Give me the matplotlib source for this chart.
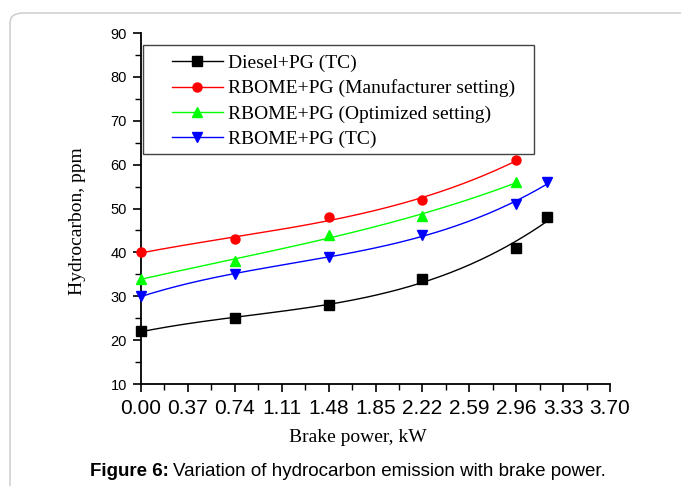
"""
Hydrocarbon emission vs brake power (Figure 6 recreation)
"""
import numpy as np
import matplotlib
matplotlib.use('Agg')
import matplotlib.pyplot as plt
from matplotlib.patches import FancyBboxPatch, Rectangle

# data
x_long = [0.00, 0.74, 1.48, 2.22, 2.96, 3.20]
x_short = [0.00, 0.74, 1.48, 2.22, 2.96]

diesel_tc = [22, 25, 28, 34, 41, 48]
rbome_manuf = [40, 43, 48, 52, 61]
rbome_opt = [34, 38, 44, 48.3, 56]
rbome_tc = [30, 35, 39, 44, 51, 56]

labels = ['Diesel+PG (TC)',
          'RBOME+PG (Manufacturer setting)',
          'RBOME+PG (Optimized setting)',
          'RBOME+PG (TC)']
x_ticks = [0.00, 0.37, 0.74, 1.11, 1.48, 1.85, 2.22, 2.59, 2.96, 3.33, 3.70]
y_ticks = [10, 20, 30, 40, 50, 60, 70, 80, 90]

W, H = 681, 486
fig = plt.figure(figsize=(W / 100, H / 100), dpi=100)

# page frame with rounded corner
frame = FancyBboxPatch((10 / W, -0.2), 1.2, 1 - 13 / H + 0.2,
                       boxstyle='round,pad=0,rounding_size=0.02',
                       transform=fig.transFigure, facecolor='none',
                       edgecolor='#c8c8c8', linewidth=1.0)
fig.patches.append(frame)

ax = fig.add_axes([141 / W, 1 - 384 / H, (610 - 141) / W, (384 - 33) / H])

serif = ['Liberation Serif', 'DejaVu Serif']
narrow = ['Liberation Sans Narrow', 'Liberation Sans', 'DejaVu Sans']

series = [
    (x_long, diesel_tc, 'black', 's', 6.5),
    (x_short, rbome_manuf, 'red', 'o', 6.5),
    (x_short, rbome_opt, '#00ff00', '^', 7),
    (x_long, rbome_tc, 'blue', 'v', 7),
]

handles = []
for (xs, ys, col, mk, ms), lab in zip(series, labels):
    # smooth fitted curve like the original plot
    coef = np.polyfit(xs, ys, 3)
    xx = np.linspace(xs[0], xs[-1], 200)
    ax.plot(xx, np.polyval(coef, xx), color=col, linewidth=1.0, clip_on=False)
    ax.plot(xs, ys, linestyle='none', marker=mk, markersize=ms, color=col,
            clip_on=False, zorder=3)
    h, = ax.plot([], [], color=col, linewidth=1.0, marker=mk, markersize=ms,
                 label=lab)
    handles.append(h)

ax.set_xlim(0, 3.70)
ax.set_ylim(10, 90)
ax.set_xticks(x_ticks)
ax.set_xticklabels([f'{v:.2f}' for v in x_ticks], family=narrow, fontsize=15)
ax.set_xticks([v + 0.185 for v in x_ticks[:-1]], minor=True)
ax.set_yticks(y_ticks)
ax.set_yticklabels([str(v) for v in y_ticks], family=narrow, fontsize=10.5)
ax.set_yticks([v + 5 for v in y_ticks[:-1]], minor=True)
ax.tick_params(which='major', direction='out', length=6, width=1.2, pad=4)
ax.tick_params(which='minor', direction='out', length=4, width=1.0)
ax.tick_params(axis='x', which='major', pad=5)

for s in ['top', 'right']:
    ax.spines[s].set_visible(False)
for s in ['left', 'bottom']:
    ax.spines[s].set_linewidth(1.3)

ax.set_xlabel('Brake power, kW', family=serif, fontsize=14)
ax.xaxis.set_label_coords((358 - 141) / 469, -(437 - 384) / 351)
ax.xaxis.label.set_va('center')
ax.set_ylabel('Hydrocarbon, ppm', family=serif, fontsize=14)
ax.yaxis.set_label_coords((77 - 141) / 469, (384 - 221) / 351)
ax.yaxis.label.set_ha('center')
ax.yaxis.label.set_va('center')

# legend box
fig.patches.append(Rectangle((143 / W, 1 - 154 / H), (534 - 143) / W, (154 - 45) / H,
                             transform=fig.transFigure, facecolor='white',
                             edgecolor='#444444', linewidth=1.0, zorder=5))
leg = fig.legend(handles=handles, loc='upper left',
                 bbox_to_anchor=(172 / W, 1 - 54 / H), frameon=False,
                 prop={'family': serif, 'size': 14}, handlelength=2.6,
                 handletextpad=0.3, labelspacing=0.4, borderpad=0,
                 borderaxespad=0)
leg.set_zorder(6)

# caption
fig.canvas.draw()
renderer = fig.canvas.get_renderer()
t1 = fig.text(90 / W, 1 - 471 / H, 'Figure 6:', fontsize=13.5, fontweight='bold',
              family=['Liberation Sans', 'DejaVu Sans'], va='center', ha='left')
bb = t1.get_window_extent(renderer=renderer)
fig.text((bb.x1 + 4) / W, 1 - 471 / H,
         'Variation of hydrocarbon emission with brake power.', fontsize=13.5,
         family=['Liberation Sans', 'DejaVu Sans'], va='center', ha='left')

fig.savefig('out.png', dpi=100)
